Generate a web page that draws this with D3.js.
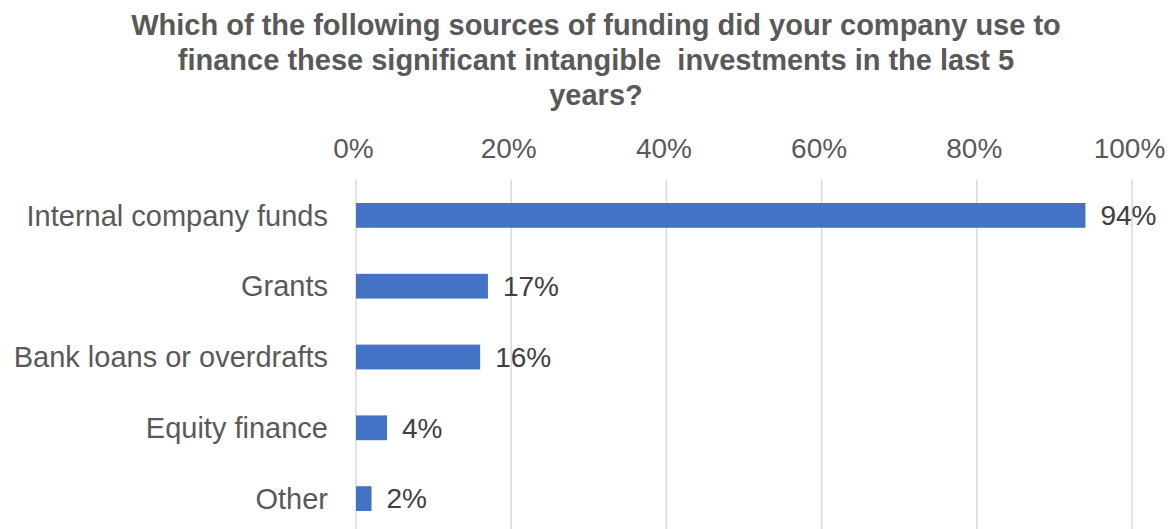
<!DOCTYPE html>
<html>
<head>
<meta charset="utf-8">
<script src="https://cdn.jsdelivr.net/npm/d3@7"></script>
<style>
  html, body { margin: 0; padding: 0; background: #fff; }
  svg { display: block; }
</style>
</head>
<body>
<svg id="chart" width="1176" height="529"></svg>
<script>
// Funding sources for intangible investments (share of companies)
const categories = [
  "Internal company funds",
  "Grants",
  "Bank loans or overdrafts",
  "Equity finance",
  "Other"
];
const shares = [0.94, 0.17, 0.16, 0.04, 0.02];
const tickValues = [0, 0.2, 0.4, 0.6, 0.8, 1.0];
const titleLines = [
  "Which of the following sources of funding did your company use to",
  "finance these significant intangible  investments in the last 5",
  "years?"
];

const W = 1176, H = 529;
const svg = d3.select("#chart");
const font = "'Liberation Sans', Arial, Helvetica, sans-serif";

const x = d3.scaleLinear().domain([0, 1]).range([356, 1132]);
const y = d3.scaleBand().domain(categories).range([180, 534]).paddingInner(0.65).paddingOuter(0.325);

// Title
svg.append("g")
  .selectAll("text")
  .data(titleLines)
  .join("text")
  .attr("x", 596)
  .attr("y", (d, i) => 35 + i * 35)
  .attr("text-anchor", "middle")
  .attr("font-family", font)
  .attr("font-weight", "bold")
  .attr("font-size", 29)
  .attr("fill", "#595959")
  .style("white-space", "pre")
  .text(d => d);

// Vertical gridlines
svg.append("g")
  .selectAll("line")
  .data(tickValues)
  .join("line")
  .attr("x1", d => x(d)).attr("x2", d => x(d))
  .attr("y1", 180).attr("y2", H)
  .attr("stroke", "#d9d9d9")
  .attr("stroke-width", 1.5);

// Top axis tick labels
const axis = d3.axisTop(x)
  .tickValues(tickValues)
  .tickFormat(d3.format(".0%"))
  .tickSize(0)
  .tickPadding(0);
const ax = svg.append("g").attr("transform", "translate(-3,158)").call(axis);
ax.select(".domain").remove();
ax.selectAll("text")
  .attr("font-family", font)
  .attr("font-size", 28)
  .attr("fill", "#595959");

// Category labels
svg.append("g")
  .selectAll("text")
  .data(categories)
  .join("text")
  .attr("x", 328)
  .attr("y", d => y(d) + y.bandwidth() / 2)
  .attr("dy", "0.35em")
  .attr("text-anchor", "end")
  .attr("font-family", font)
  .attr("font-size", 29)
  .attr("fill", "#595959")
  .text(d => d);

// Bars
svg.append("g")
  .selectAll("rect")
  .data(shares)
  .join("rect")
  .attr("x", x(0))
  .attr("y", (d, i) => y(categories[i]))
  .attr("width", d => x(d) - x(0))
  .attr("height", y.bandwidth())
  .attr("fill", "#4472c4");

// Value labels
svg.append("g")
  .selectAll("text")
  .data(shares)
  .join("text")
  .attr("x", d => x(d) + 15)
  .attr("y", (d, i) => y(categories[i]) + y.bandwidth() / 2)
  .attr("dy", "0.35em")
  .attr("font-family", font)
  .attr("font-size", 28)
  .attr("fill", "#404040")
  .text(d => d3.format(".0%")(d));
</script>
</body>
</html>
